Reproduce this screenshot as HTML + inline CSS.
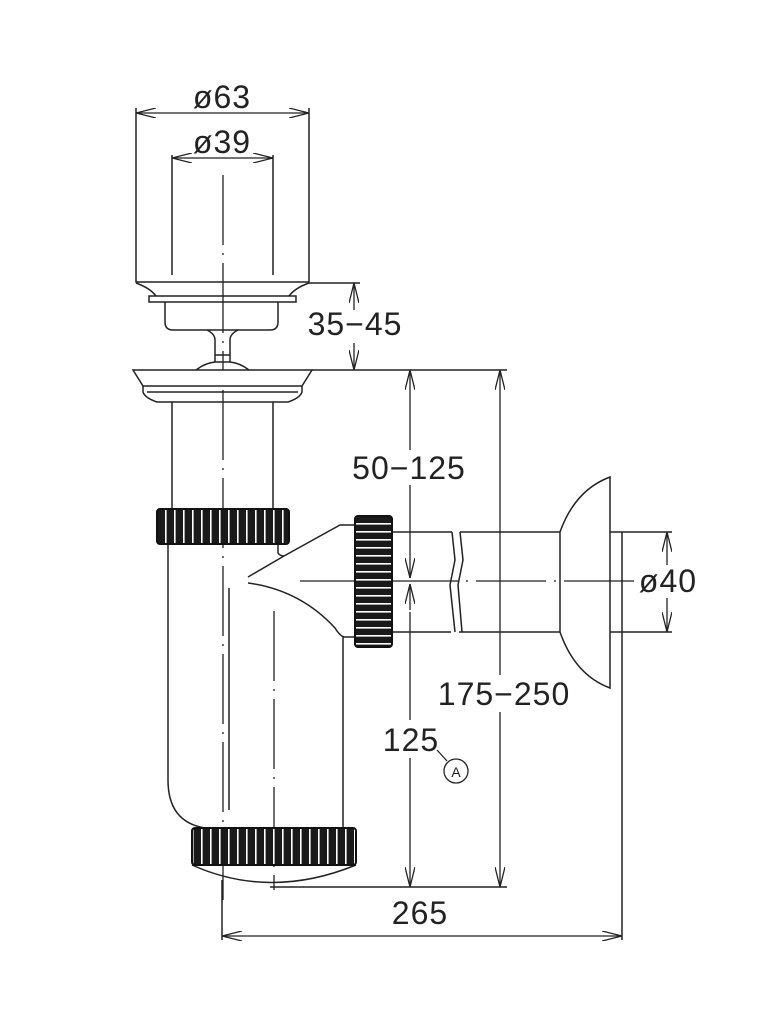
<!DOCTYPE html>
<html><head><meta charset="utf-8"><style>
html,body{margin:0;padding:0;background:#fff}
svg{display:block}
text{font-family:"Liberation Sans",sans-serif;font-size:32px;fill:#222;letter-spacing:1px}
</style></head><body>
<svg width="772" height="1024" viewBox="0 0 772 1024" xmlns="http://www.w3.org/2000/svg">
<defs>
<pattern id="kv" width="9" height="10" patternUnits="userSpaceOnUse">
<rect width="9" height="10" fill="#1a1a1a"/><rect x="3" width="1.6" height="10" fill="#fff"/>
</pattern>
<pattern id="kh" width="10" height="8" patternUnits="userSpaceOnUse">
<rect width="10" height="8" fill="#1a1a1a"/><rect y="3" width="10" height="1.6" fill="#fff"/>
</pattern>
<marker id="a" viewBox="0 0 20 10" refX="20" refY="5" markerWidth="20" markerHeight="10" markerUnits="userSpaceOnUse" orient="auto-start-reverse">
<path d="M0,0 L20,5 L0,10" fill="none" stroke="#222" stroke-width="1.3"/>
</marker>
</defs>
<g fill="none" stroke="#222" stroke-width="1.5">
<path d="M136,108 V282 H309 V108"/>
<path d="M172,155 V275 M273,155 V275"/>
<path d="M136,283 Q150,288 156,296 M309,283 Q295,288 289,296"/>
<rect x="149" y="296" width="147" height="6"/>
<path d="M165,302 V322 Q165,330 173,330 H270 Q278,330 278,322 V302"/>
<path d="M207,330 Q215,334 215,340 V362 M238,330 Q230,334 230,340 V362 M215,355 H230"/>
<path d="M196,370 Q205,363 215,362 H230 Q240,363 249,370"/>
<path d="M133,370 H312 L302,386 H143 Z"/>
<path d="M143,386 V392 Q145,398 157,402 H288 Q300,398 302,392 V386 M147,392 H298"/>
<path d="M172,402 V509 M273,402 V509"/>
<path d="M168,544 V780 Q168,822 205,828"/>
<path d="M229,588 V810"/>
<path d="M343,642 V828"/>
<path d="M192,865 Q270,900 356,865"/>
<path d="M278,544 V553 Q280,556 284,556"/>
<path d="M284,556 L340,525 H355"/>
<path d="M248,583 Q300,590 335,628 Q340,636 344,637 H355 M343,637 V642"/>
<path d="M248,577 L284,556"/>
<path d="M392,532 H452 M460,532 H560 M392,632 H451 M459,632 H560"/>
<path d="M452,532 L455,560 L450,585 L455,632 M460,532 L463,560 L458,585 L462,632"/>
<path d="M560,532 V632 M560,532 Q575,490 610,477 V688 Q575,675 560,632"/>
<path d="M610,532 H672 M610,632 H672 M622,532 V940"/>
<path d="M309,283 H360 M312,370 H507"/>
<path d="M270,887 H507"/>
<path d="M222,880 V940"/>
</g>
<g fill="none" stroke="#222" stroke-width="1.3" stroke-dasharray="70,8,2,8">
<path d="M223,175 V370"/>
<path d="M223,390 V900"/>
<path d="M274,611 V890"/>
<path d="M300,581 H640"/>
</g>
<g stroke="#111" stroke-width="2">
<rect x="157" y="509" width="132" height="35" rx="3" fill="url(#kv)"/>
<rect x="192" y="828" width="164" height="37" rx="3" fill="url(#kv)"/>
<rect x="355" y="516" width="37" height="131" rx="3" fill="url(#kh)"/>
</g>
<g fill="none" stroke="#222" stroke-width="1.3">
<path d="M136,113 H309" marker-start="url(#a)" marker-end="url(#a)"/>
<path d="M172,158 H273" marker-start="url(#a)" marker-end="url(#a)"/>
<path d="M354,310 V283" marker-end="url(#a)"/>
<path d="M354,343 V370" marker-end="url(#a)"/>
<path d="M410,450 V370" marker-end="url(#a)"/>
<path d="M410,485 V578" marker-end="url(#a)"/>
<path d="M410,610 V584" marker-end="url(#a)"/>
<path d="M410,612 V720 M410,758 V887" marker-end="url(#a)"/>
<path d="M500,675 V370" marker-end="url(#a)"/>
<path d="M500,712 V887" marker-end="url(#a)"/>
<path d="M222,936 H622" marker-start="url(#a)" marker-end="url(#a)"/>
<path d="M667,565 V532" marker-end="url(#a)"/>
<path d="M667,598 V632" marker-end="url(#a)"/>
<path d="M437,750 L447,761"/>
<circle cx="456" cy="771" r="12"/>
</g>
<text x="222" y="108" text-anchor="middle">ø63</text>
<text x="222" y="153" text-anchor="middle">ø39</text>
<text x="355" y="335" text-anchor="middle">35−45</text>
<text x="409" y="479" text-anchor="middle">50−125</text>
<text x="504" y="705" text-anchor="middle">175−250</text>
<text x="411" y="751" text-anchor="middle">125</text>
<text x="456" y="777" text-anchor="middle" style="font-size:14px;letter-spacing:0">A</text>
<text x="668" y="592" text-anchor="middle">ø40</text>
<text x="420" y="924" text-anchor="middle">265</text>
</svg>
</body></html>
